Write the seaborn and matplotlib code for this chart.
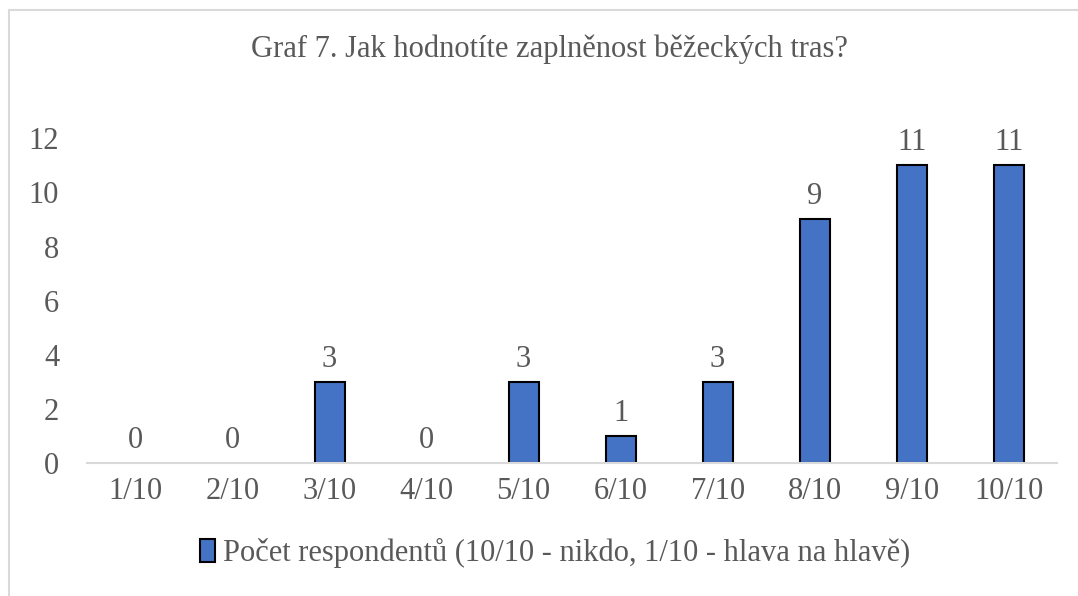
import matplotlib
matplotlib.use('Agg')
import matplotlib.pyplot as plt
import seaborn as sns
import pandas as pd
from matplotlib.lines import Line2D

# Data
categories = ['1/10', '2/10', '3/10', '4/10', '5/10', '6/10', '7/10', '8/10', '9/10', '10/10']
counts = [0, 0, 3, 0, 3, 1, 3, 9, 11, 11]
series_label = 'Počet respondentů (10/10 - nikdo, 1/10 - hlava na hlavě)'
title = 'Graf 7. Jak hodnotíte zaplněnost běžeckých tras?'

TEXT = '#595959'
BAR = '#4472C4'
FS = 22

sns.set_theme(style='white')
plt.rcParams['font.family'] = ['Liberation Serif', 'DejaVu Serif']

df = pd.DataFrame({'cat': categories, 'n': counts})

fig = plt.figure(figsize=(10.78, 5.96), dpi=100)
ax = fig.add_axes([0.0807, 0.223, 0.9, 0.545])

sns.barplot(data=df, x='cat', y='n', color=BAR, edgecolor='black',
            linewidth=1.5, width=0.31, saturation=1, ax=ax, label=series_label)

ax.set_ylim(0, 12)
ax.set_yticks(range(0, 13, 2))
ax.set_xlabel('')
ax.set_ylabel('')
ax.tick_params(axis='both', labelsize=FS, colors=TEXT, length=0)
ax.tick_params(axis='x', pad=10)
ax.tick_params(axis='y', pad=20)

for s in ['top', 'right', 'left']:
    ax.spines[s].set_visible(False)
ax.spines['bottom'].set_color('#d9d9d9')
ax.spines['bottom'].set_linewidth(1.5)

for c in ax.containers:
    ax.bar_label(c, fmt='%d', padding=6, fontsize=FS, color=TEXT)

fig.text(0.51, 0.918, title, ha='center', va='center', fontsize=FS, color=TEXT)

leg = ax.legend(loc='center', bbox_to_anchor=(0.515, 0.072), bbox_transform=fig.transFigure,
                frameon=False, fontsize=FS, labelcolor=TEXT, handlelength=0.5,
                handleheight=0.75, handletextpad=0.25)
leg.legend_handles[0].set_edgecolor('black')
leg.legend_handles[0].set_linewidth(1.5)

# zero-height bars show no outline (after the legend has copied the style)
for p in ax.patches:
    if p.get_height() == 0:
        p.set_linewidth(0)

# chart border
fig.add_artist(Line2D([9 / 1078, 9 / 1078], [0, 1 - 10 / 596], color='#d9d9d9', lw=1.5,
                      transform=fig.transFigure))
fig.add_artist(Line2D([9 / 1078, 1], [1 - 10 / 596, 1 - 10 / 596], color='#d9d9d9', lw=1.5,
                      transform=fig.transFigure))

fig.savefig('out.png', dpi=100)
